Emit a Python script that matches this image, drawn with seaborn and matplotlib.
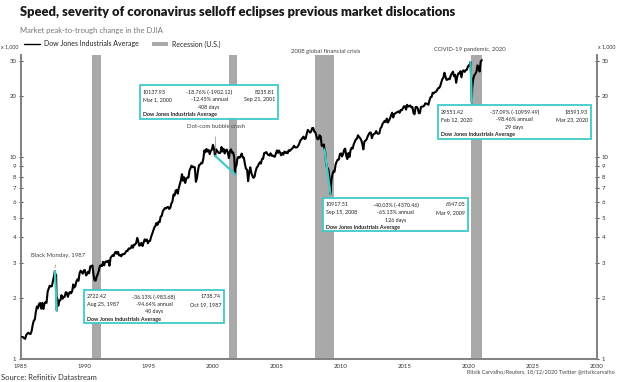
import pandas as pd
import matplotlib
matplotlib.use("Agg")
import matplotlib.pyplot as plt
import seaborn as sns
from matplotlib.patches import Rectangle
from matplotlib.ticker import FixedLocator, FixedFormatter, NullLocator, MultipleLocator

# DJIA month-end closes, Jan 1985 .. Dec 2020
djia_monthly = [
    1287, 1284, 1267, 1258, 1315, 1336, 1348, 1334, 1329, 1375, 1472, 1547,
    1571, 1709, 1819, 1784, 1877, 1893, 1775, 1898, 1768, 1878, 1914, 1896,
    2158, 2224, 2305, 2286, 2292, 2419, 2572, 2663, 2596, 1994, 1834, 1939,
    1958, 2072, 1988, 2032, 2031, 2142, 2129, 2032, 2113, 2149, 2115, 2169,
    2342, 2258, 2294, 2419, 2480, 2440, 2661, 2737, 2693, 2645, 2748, 2753,
    2591, 2627, 2707, 2657, 2877, 2881, 2905, 2614, 2453, 2442, 2560, 2634,
    2736, 2882, 2914, 2888, 3028, 2907, 3025, 3044, 3017, 3069, 2895, 3169,
    3223, 3267, 3236, 3359, 3397, 3319, 3394, 3257, 3272, 3226, 3305, 3301,
    3310, 3371, 3435, 3428, 3527, 3516, 3540, 3651, 3555, 3681, 3684, 3754,
    3978, 3832, 3636, 3682, 3758, 3625, 3765, 3913, 3843, 3908, 3739, 3834,
    3844, 4011, 4158, 4321, 4465, 4556, 4709, 4611, 4789, 4756, 5075, 5117,
    5395, 5486, 5587, 5569, 5643, 5655, 5529, 5616, 5882, 6029, 6522, 6448,
    6813, 6878, 6584, 7009, 7331, 7673, 8223, 7622, 7945, 7442, 7823, 7908,
    7907, 8546, 8800, 9063, 8900, 8952, 8883, 7539, 7843, 8592, 9117, 9181,
    9359, 9307, 9786, 10789, 10560, 10971, 10655, 10829, 10337, 10729, 10878, 11497,
    10940, 10128, 10922, 10734, 10522, 10448, 10522, 11215, 10651, 10971, 10415, 10788,
    10887, 10495, 9879, 10735, 10912, 10502, 10523, 9950, 8848, 9075, 9852, 10021,
    9920, 10106, 10404, 9946, 9925, 9243, 8737, 8664, 7592, 8397, 8896, 8342,
    8054, 7891, 7992, 8480, 8850, 8985, 9234, 9416, 9275, 9801, 9782, 10454,
    10488, 10584, 10358, 10226, 10188, 10435, 10140, 10174, 10080, 10027, 10428, 10783,
    10490, 10766, 10504, 10193, 10467, 10275, 10641, 10482, 10569, 10440, 10806, 10718,
    10865, 10993, 11109, 11367, 11168, 11150, 11186, 11381, 11679, 12081, 12221, 12463,
    12622, 12269, 12354, 13063, 13628, 13409, 13212, 13358, 13896, 13930, 13372, 13265,
    12650, 12266, 12263, 12820, 12638, 11350, 11378, 11544, 10851, 9325, 8829, 8776,
    8001, 7063, 7609, 8168, 8500, 8447, 9172, 9496, 9713, 9713, 10345, 10428,
    10067, 10325, 10857, 11009, 10137, 9774, 10466, 10015, 10788, 11118, 11006, 11578,
    11892, 12226, 12320, 12811, 12570, 12414, 12143, 11614, 10913, 11955, 12046, 12218,
    12633, 12952, 13212, 13214, 12393, 12880, 13009, 13091, 13437, 13096, 13026, 13104,
    13861, 14054, 14579, 14840, 15116, 14910, 15500, 14810, 15130, 15546, 16086, 16577,
    15699, 16322, 16458, 16581, 16717, 16827, 16563, 17098, 17043, 17391, 17828, 17823,
    17165, 18133, 17776, 17841, 18011, 17620, 17690, 16528, 16285, 17664, 17720, 17425,
    16466, 16517, 17685, 17774, 17787, 17930, 18432, 18401, 18308, 18142, 19124, 19763,
    19864, 20812, 20663, 20941, 21009, 21350, 21891, 21948, 22405, 23377, 24272, 24719,
    26149, 25029, 24103, 24163, 24416, 24271, 25415, 25965, 26458, 25116, 25538, 23327,
    24999, 25916, 25929, 26593, 24815, 26600, 26864, 26403, 26917, 27046, 28051, 28538,
    28256, 25409, 21917, 24346, 25383, 25813, 26428, 28430, 27782, 26502, 29639, 30200,
]

# selloff episodes: peak and trough closes
crash_labels = ["Black Monday, 1987", "Dot-com bubble crash",
                "2008 global financial crisis", "COVID-19 pandemic, 2020"]
peak_dates = ["1987-08-25", "2000-03-01", "2008-09-15", "2020-02-12"]
peak_values = [2722.42, 10137.93, 10917.51, 29551.42]
trough_dates = ["1987-10-19", "2001-09-21", "2009-03-09", "2020-03-23"]
trough_values = [1738.74, 8235.81, 6547.05, 18591.93]
annual_change = ["-94.64%", "-12.45%", "-65.13%", "-98.46%"]
days_taken = [40, 408, 126, 29]

recession_starts = [1990.55, 2001.25, 2007.95, 2020.12]
recession_ends = [1991.22, 2001.88, 2009.45, 2020.98]

y_ticks = [1, 2, 3, 4, 5, 6, 7, 8, 9, 10, 20, 30]
x_ticks = list(range(1985, 2031, 5))

TEAL = "#3fc9c9"
GREY = "#a9a9a9"
W, H = 620, 382


def dec_year(d):
    d = pd.Timestamp(d)
    return d.year + (d.dayofyear - 1) / 365.25


months = pd.period_range("1985-01", periods=len(djia_monthly), freq="M").to_timestamp(how="end")
df = pd.DataFrame({"date": list(months) + [pd.Timestamp(d) for d in peak_dates + trough_dates],
                   "close": djia_monthly + peak_values + trough_values})
df = df.sort_values("date").reset_index(drop=True)
df["year"] = df["date"].apply(dec_year)
df["djia"] = df["close"] / 1000

sns.set_style("white")
plt.rcParams["font.family"] = ["Lato", "DejaVu Sans"]

fig = plt.figure(figsize=(6.2, 3.82), dpi=100)
ax = fig.add_axes([21 / W, 1 - 359 / H, 576 / W, 304 / H])

for s, e in zip(recession_starts, recession_ends):
    ax.axvspan(s, e, color=GREY, lw=0, zorder=1)

sns.lineplot(data=df, x="year", y="djia", color="black", lw=1.5, ax=ax, zorder=3)

# peak-to-trough segments
for pd_, pv, td, tv in zip(peak_dates, peak_values, trough_dates, trough_values):
    ax.plot([dec_year(pd_), dec_year(td)], [pv / 1000, tv / 1000], color=TEAL, lw=1.6, zorder=4)

ax.set_yscale("log")
ax.set_ylim(1, 32)
ax.set_xlim(1985, 2030)
ax.yaxis.set_major_locator(FixedLocator(y_ticks))
ax.yaxis.set_major_formatter(FixedFormatter([str(t) for t in y_ticks]))
ax.yaxis.set_minor_locator(NullLocator())
ax.xaxis.set_major_locator(FixedLocator(x_ticks))
ax.xaxis.set_minor_locator(MultipleLocator(1))
ax.yaxis.set_ticks_position("both")
ax.tick_params(axis="y", labelright=True)
ax.tick_params(which="major", direction="inout", length=3.5, width=0.8, color="#555555",
               labelsize=4.3, labelcolor="#333333", pad=1.5)
ax.tick_params(axis="x", which="minor", direction="inout", length=2.5, width=0.7, color="#555555")
ax.set_xlabel("")
ax.set_ylabel("")
ax.spines["top"].set_visible(False)
for side in ["left", "right", "bottom"]:
    ax.spines[side].set_color("#808080")
    ax.spines[side].set_linewidth(1.4)


def px(x, y):
    return x / W, 1 - y / H


# annotation boxes (x, y, w, h in pixels from top-left)
boxes_px = [(84, 290, 140, 33), (140, 85, 138, 34), (323, 198, 145, 33), (438, 105, 153, 34)]
label_px = [(58, 255), (216, 127), (326, 51), (470, 50)]

for i in range(4):
    bx, by, bw, bh = boxes_px[i]
    fig.patches.append(Rectangle(px(bx, by + bh), bw / W, bh / H, transform=fig.transFigure,
                                 facecolor="white", edgecolor=TEAL, lw=1.3, zorder=5))
    pk = pd.Timestamp(peak_dates[i])
    tr = pd.Timestamp(trough_dates[i])
    diff = trough_values[i] - peak_values[i]
    pct = diff / peak_values[i] * 100
    rows = [
        (f"{peak_values[i]:.2f}", f"{pct:.2f}% ({diff:.2f})", f"{trough_values[i]:.2f}"),
        (f"{pk:%b} {pk.day}, {pk.year}", f"{annual_change[i]} annual", f"{tr:%b} {tr.day}, {tr.year}"),
        ("", f"{days_taken[i]} days", ""),
    ]
    for r, row in enumerate(rows):
        ry = by + 7 + r * 7.5
        kw = dict(fontsize=3.9, color="#222222", va="center", zorder=6)
        fig.text(*px(bx + 3, ry), row[0], ha="left", **kw)
        fig.text(*px(bx + bw / 2, ry), row[1], ha="center", **kw)
        fig.text(*px(bx + bw - 3, ry), row[2], ha="right", **kw)
    fig.text(*px(bx + 3, by + 29.5), "Dow Jones Industrials Average", ha="left", va="center",
             fontsize=3.9, color="#222222", weight="bold", zorder=6)

    lx, ly = label_px[i]
    if i < 2:
        ax.annotate(crash_labels[i], xy=(dec_year(peak_dates[i]), peak_values[i] / 1000 * 1.04),
                    xytext=(lx, H - ly), textcoords="figure pixels", ha="center", va="center",
                    fontsize=4.3, color="#444444",
                    arrowprops=dict(arrowstyle="-", color="#888888", lw=0.5, shrinkA=3, shrinkB=0))
    else:
        fig.text(*px(lx, ly), crash_labels[i], ha="center", va="center", fontsize=4.3, color="#444444")

# legend
ax.plot([], [], color="black", lw=1.0, label="Dow Jones Industrials Average")
ax.axvspan(0, 0, color=GREY, lw=0, label="Recession (U.S.)")
ax.legend(loc="center left", bbox_to_anchor=(18 / W, 1 - 44 / H), bbox_transform=fig.transFigure,
          ncol=2, frameon=False, fontsize=5, handlelength=2.2, handleheight=0.5,
          columnspacing=2.0, handletextpad=0.6, labelcolor="#222222")

fig.text(*px(20, 12), "Speed, severity of coronavirus selloff eclipses previous market dislocations",
         fontsize=9.3, weight="heavy", color="#1a1a1a", va="center")
fig.text(*px(20, 31), "Market peak-to-trough change in the DJIA", fontsize=5.5, color="#777777", va="center")
fig.text(*px(1, 47), "x 1,000", fontsize=3.8, color="#333333", va="center")
fig.text(*px(598, 47), "x 1,000", fontsize=3.8, color="#333333", va="center")
fig.text(*px(1, 377), "Source: Refinitiv Datastream", fontsize=5.5, color="#333333", va="center")
fig.text(*px(615, 372), "Ritvik Carvalho/Reuters, 18/12/2020 Twitter @ritvikcarvalho", fontsize=4,
         color="#444444", ha="right", va="center")

fig.savefig("out.png", dpi=100)
